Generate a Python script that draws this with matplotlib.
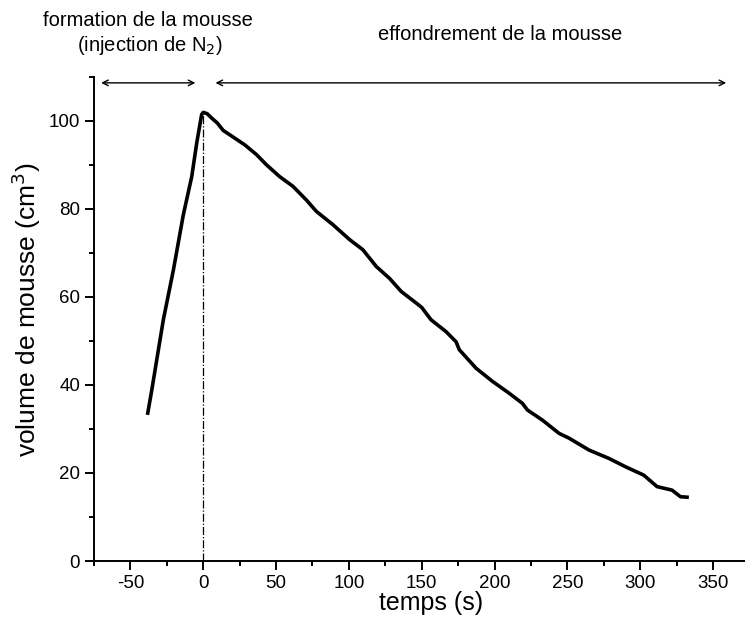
import matplotlib
matplotlib.use('Agg')
import matplotlib.pyplot as plt
from matplotlib.ticker import MultipleLocator

plt.rcParams['font.family'] = ['Liberation Sans', 'DejaVu Sans']
plt.rcParams['axes.unicode_minus'] = False

# volume de mousse en fonction du temps
temps = [-38.1, -35.3, -27.4, -20.5, -13.7, -7.9, -4.5, -1.1, 0.0, 2.7, 5.8, 9.6,
         13.7, 20.5, 28.6, 36.6, 43.4, 52.5, 61.6, 70.8, 77.7, 89.0, 100.5, 109.6,
         118.8, 127.9, 136.0, 146.2, 150.0, 156.4, 166.7, 173.6, 175.8, 187.3,
         198.6, 210.1, 219.2, 222.6, 232.9, 244.3, 251.2, 264.9, 278.6, 290.0,
         302.5, 311.6, 321.9, 327.7, 332.2]
volume = [33.6, 38.9, 54.8, 66.1, 78.6, 87.3, 94.9, 101.4, 101.9, 101.6, 100.6, 99.5,
          97.8, 96.3, 94.5, 92.3, 90.0, 87.3, 85.1, 82.0, 79.4, 76.4, 73.0, 70.7,
          66.9, 64.2, 61.2, 58.6, 57.6, 54.8, 52.1, 49.8, 48.0, 43.8,
          40.8, 38.1, 35.8, 34.3, 32.0, 29.0, 27.9, 25.2, 23.3, 21.4,
          19.5, 16.9, 16.1, 14.6, 14.5]

fig = plt.figure(figsize=(7.45, 6.35), dpi=100)
ax = fig.add_axes([0.1262, 0.1165, 0.8738, 0.7627])

ax.plot(temps, volume, color='black', lw=2.6, solid_joinstyle='round')
ax.plot([0, 0], [0, 101.9], color='black', lw=0.9, ls='-.')

# fleches des deux phases
ax.annotate('', xy=(-72, 108.6), xytext=(-3.5, 108.6),
            arrowprops=dict(arrowstyle='<->', color='black', lw=1.0))
ax.annotate('', xy=(6.5, 108.6), xytext=(361, 108.6),
            arrowprops=dict(arrowstyle='<->', color='black', lw=1.0))

fig.text(0.199, 0.9685, 'formation de la mousse', ha='center', va='center', fontsize=14.5)
fig.text(0.201, 0.9276, '(injection de N$_2$)', ha='center', va='center', fontsize=14.5)
fig.text(0.671, 0.945, 'effondrement de la mousse', ha='center', va='center', fontsize=14.5)

ax.set_xlim(-75, 372)
ax.set_ylim(0, 110)
ax.xaxis.set_major_locator(MultipleLocator(50))
ax.xaxis.set_minor_locator(MultipleLocator(25))
ax.yaxis.set_major_locator(MultipleLocator(20))
ax.yaxis.set_minor_locator(MultipleLocator(10))

ax.spines['top'].set_visible(False)
ax.spines['right'].set_visible(False)
ax.spines['left'].set_linewidth(1.4)
ax.spines['bottom'].set_linewidth(1.4)
ax.tick_params(which='major', direction='out', length=6.5, width=1.4, labelsize=13.5)
ax.tick_params(which='minor', direction='out', length=3.6, width=1.4)

ax.set_xlabel('temps (s)', fontsize=18)
ax.set_ylabel('volume de mousse (cm$^3$)', fontsize=19)
ax.xaxis.set_label_coords(0.517, -0.062)
ax.yaxis.set_label_coords(-0.078, 0.52)

fig.savefig('out.png', dpi=100)
